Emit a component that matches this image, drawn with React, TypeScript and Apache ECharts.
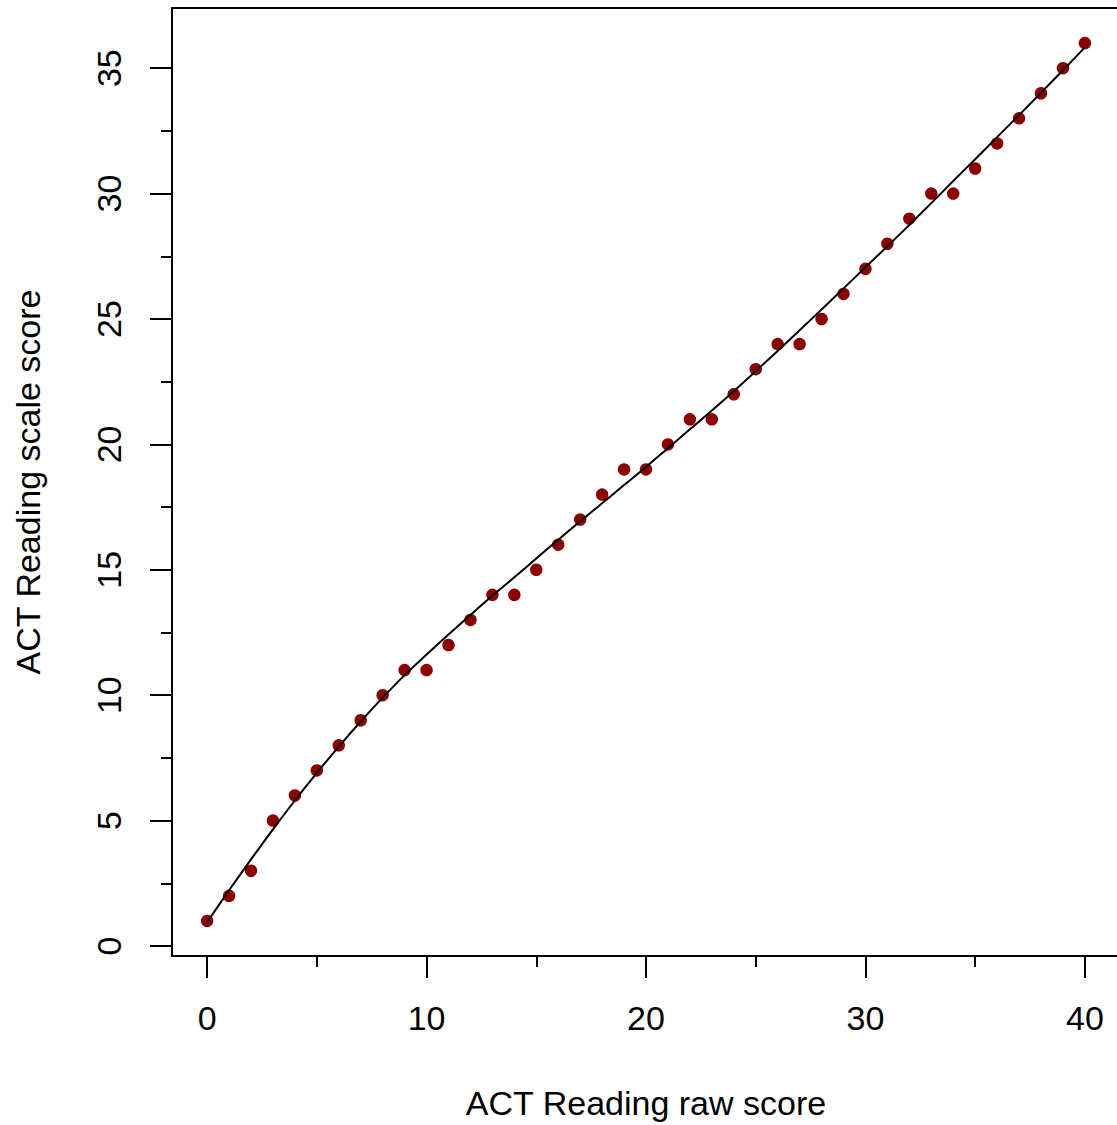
import React, { useEffect, useRef } from "react";
import * as echarts from "echarts";

const rawScores = [0,1,2,3,4,5,6,7,8,9,10,11,12,13,14,15,16,17,18,19,20,21,22,23,24,25,26,27,28,29,30,31,32,33,34,35,36,37,38,39,40];
const scaleScores = [1,2,3,5,6,7,8,9,10,11,11,12,13,14,14,15,16,17,18,19,19,20,21,21,22,23,24,24,25,26,27,28,29,30,30,31,32,33,34,35,36];
const fitCurve = [0.95,2.22,3.45,4.65,5.8,6.9,7.95,8.95,9.9,10.8,11.62,12.42,13.2,13.96,14.7,15.45,16.2,16.93,17.65,18.38,19.1,19.85,20.6,21.35,22.12,22.92,23.72,24.55,25.38,26.22,27.06,27.9,28.75,29.62,30.5,31.37,32.25,33.13,34.02,34.92,35.83];
const xMajorTicks = [0,10,20,30,40];
const xMinorTicks = [5,15,25,35];
const yMajorTicks = [0,5,10,15,20,25,30,35];
const yMinorTicks = [2.5,7.5,12.5,17.5,22.5,27.5,32.5];

const FONT = "'Liberation Sans', Arial, sans-serif";

export default function App() {
  const ref = useRef<HTMLDivElement>(null);
  useEffect(() => {
    if (!ref.current) return;
    const chart = echarts.init(ref.current, null, { renderer: "svg" });
    const tickLine = { color: "#000", width: 2 };
    const boxLine = { show: true, onZero: false, lineStyle: { color: "#000", width: 2 } };
    chart.setOption({
      animation: false,
      backgroundColor: "#fff",
      grid: { left: 172, top: 8, right: 2, bottom: 169, show: false },
      xAxis: [
        {
          type: "value", min: -1.6, max: 41.6, position: "bottom",
          axisLine: boxLine, splitLine: { show: false },
          axisTick: { show: true, length: 22, lineStyle: tickLine, customValues: xMajorTicks },
          axisLabel: { show: true, customValues: xMajorTicks, margin: 45, fontSize: 34, color: "#000", fontFamily: FONT },
          name: "ACT Reading raw score", nameLocation: "middle", nameGap: 130,
          nameTextStyle: { fontSize: 34, color: "#000", fontFamily: FONT },
        },
        {
          type: "value", min: -1.6, max: 41.6, position: "bottom", offset: 0,
          axisLine: { show: false, onZero: false }, splitLine: { show: false },
          axisTick: { show: true, length: 11, lineStyle: tickLine, customValues: xMinorTicks },
          axisLabel: { show: false },
        },
        {
          type: "value", min: -1.6, max: 41.6, position: "top", offset: 0,
          axisLine: boxLine, splitLine: { show: false },
          axisTick: { show: false }, axisLabel: { show: false },
        },
      ],
      yAxis: [
        {
          type: "value", min: -0.4, max: 37.4, position: "left",
          axisLine: boxLine, splitLine: { show: false },
          axisTick: { show: true, length: 22, lineStyle: tickLine, customValues: yMajorTicks },
          axisLabel: { show: true, customValues: yMajorTicks, rotate: 90, margin: 46, fontSize: 34, color: "#000", fontFamily: FONT },
          name: "ACT Reading scale score", nameLocation: "middle", nameGap: 127,
          nameTextStyle: { fontSize: 34, color: "#000", fontFamily: FONT },
        },
        {
          type: "value", min: -0.4, max: 37.4, position: "left", offset: 0,
          axisLine: { show: false, onZero: false }, splitLine: { show: false },
          axisTick: { show: true, length: 11, lineStyle: tickLine, customValues: yMinorTicks },
          axisLabel: { show: false },
        },
      ],
      series: [
        {
          type: "scatter",
          data: rawScores.map((x, i) => [x, scaleScores[i]]),
          symbol: "circle", symbolSize: 12.5,
          itemStyle: { color: "#8B0000", opacity: 1 },
          z: 2,
        },
        {
          type: "line",
          data: rawScores.map((x, i) => [x, fitCurve[i]]),
          showSymbol: false, smooth: 0.3,
          lineStyle: { color: "#000", width: 2 },
          z: 3,
        },
      ],
    });
    return () => chart.dispose();
  }, []);
  return (
    <div style={{ position: "absolute", left: 0, top: 0, width: 1117, height: 1125, overflow: "hidden", background: "#fff" }}>
      <div ref={ref} style={{ width: 1122, height: 1125 }} />
    </div>
  );
}
